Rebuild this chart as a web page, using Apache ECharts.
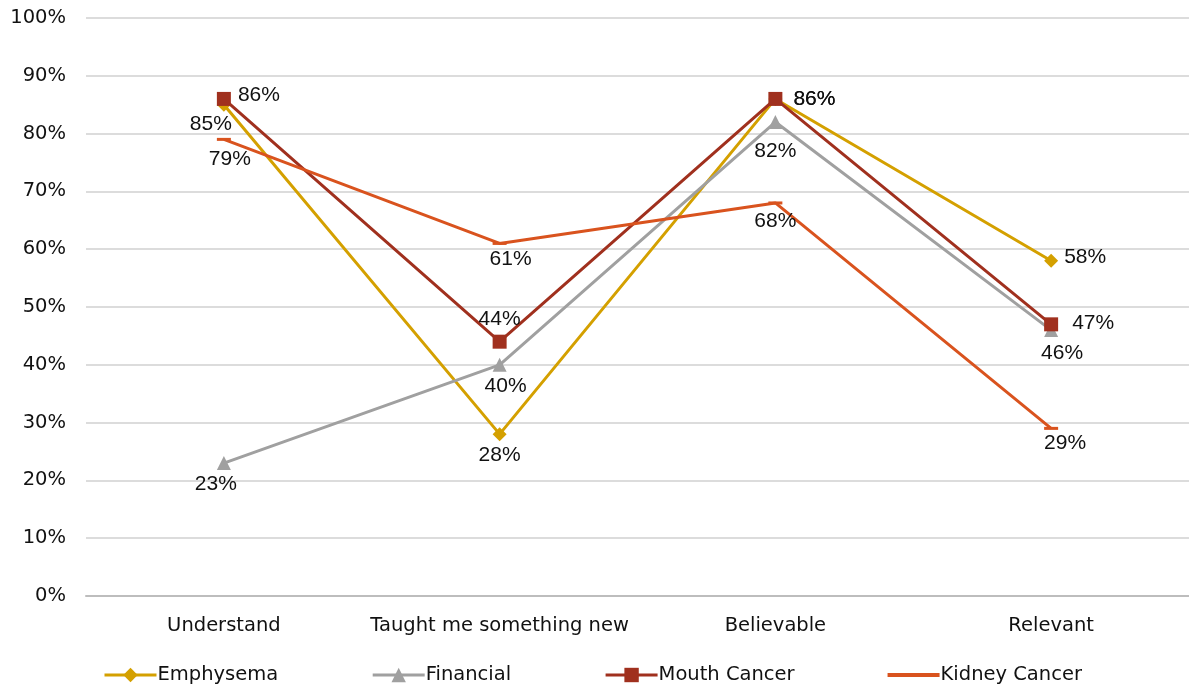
<!DOCTYPE html>
<html>
<head>
<meta charset="utf-8">
<script src="https://cdn.jsdelivr.net/npm/echarts@6/dist/echarts.min.js"></script>
<style>
  html, body { margin: 0; padding: 0; background: #fff; }
  #chart { width: 1189px; height: 692px; }
</style>
</head>
<body>
<div id="chart"></div>
<script>
const categories = ['Understand', 'Taught me something new', 'Believable', 'Relevant']
const emphysema = [85, 28, 86, 58]
const financial = [23, 40, 82, 46]
const mouthCancer = [86, 44, 86, 47]
const kidneyCancer = [79, 61, 68, 29]

// label placement per point, as in the picture
const emphysemaPos = [['bottom', [-13, -4]], ['bottom', [0, -2]], ['right', [5, 0]], ['right', [0, -4]]]
const financialPos = [['bottom', [-8, -2]], ['bottom', [6, -2]], ['bottom', [0, 6]], ['bottom', [11, 0]]]
const mouthPos = [['right', [1, -4]], ['top', [0, 1]], ['right', [5, 0]], ['right', [8, -1]]]
const kidneyPos = [['bottom', [6, 2]], ['bottom', [11, -2]], ['bottom', [0, 0]], ['bottom', [14, -3]]]

const labelFont = "'Liberation Sans', Arial, sans-serif"
const axisFont = "'DejaVu Sans', Tahoma, sans-serif"

function withLabels (values, pos) {
  return values.map((v, i) => ({
    value: v,
    label: { position: pos[i][0], offset: pos[i][1] }
  }))
}

function makeSeries (name, values, pos, color, symbol, symbolSize) {
  return {
    name: name,
    type: 'line',
    data: withLabels(values, pos),
    color: color,
    symbol: symbol,
    symbolSize: symbolSize,
    showAllSymbol: true,
    lineStyle: { width: 3, color: color },
    itemStyle: { color: color },
    label: {
      show: true,
      color: '#111',
      fontSize: 21,
      fontFamily: labelFont,
      distance: 6,
      formatter: p => p.value + '%'
    },
    emphasis: { disabled: true }
  }
}

const chart = echarts.init(document.getElementById('chart'))
chart.setOption({
  animation: false,
  legend: {
    bottom: 2,
    left: 98,
    itemWidth: 52,
    itemHeight: 18,
    itemGap: 93,
    lineStyle: { width: 3 },
    textStyle: { fontSize: 19.5, fontFamily: axisFont, color: '#111', padding: [0, 0, 0, -4] },
    data: [
      { name: 'Emphysema' },
      { name: 'Financial' },
      { name: 'Mouth Cancer' },
      { name: 'Kidney Cancer', icon: 'path://M0,0H52V4H0Z' }
    ]
  },
  grid: { left: 86, right: 0, top: 18, bottom: 96 },
  xAxis: {
    type: 'category',
    data: categories,
    axisLine: { lineStyle: { color: '#bdbdbd', width: 2 } },
    axisTick: { show: false },
    axisLabel: { color: '#111', fontSize: 19.5, fontFamily: axisFont, margin: 20, interval: 0 }
  },
  yAxis: {
    type: 'value',
    min: 0,
    max: 100,
    interval: 10,
    axisLine: { show: false },
    axisTick: { show: false },
    splitLine: { lineStyle: { color: '#d0d0d0', width: 1.5 } },
    axisLabel: { color: '#111', fontSize: 19.5, fontFamily: axisFont, margin: 20, formatter: '{value}%' }
  },
  series: [
    makeSeries('Emphysema', emphysema, emphysemaPos, '#D4A000', 'diamond', 14),
    makeSeries('Financial', financial, financialPos, '#A0A0A0', 'triangle', 14),
    makeSeries('Mouth Cancer', mouthCancer, mouthPos, '#A0301E', 'rect', 14),
    makeSeries('Kidney Cancer', kidneyCancer, kidneyPos, '#D9531E', 'rect', [14, 3])
  ]
})
</script>
</body>
</html>
